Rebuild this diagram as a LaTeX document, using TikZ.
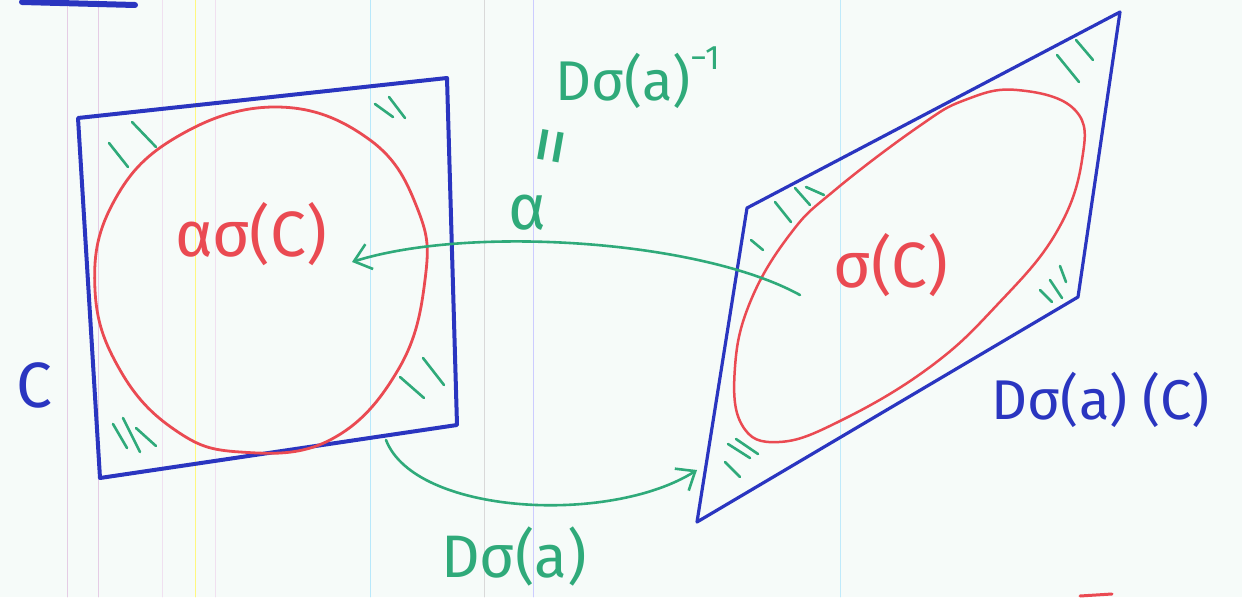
\documentclass[tikz,border=0pt]{standalone}
\usepackage{fontspec}
\setmainfont{Fira Sans}
\usetikzlibrary{arrows.meta}
\definecolor{pblue}{HTML}{2A35C0}
\definecolor{pred}{HTML}{EA4A52}
\definecolor{pgreen}{HTML}{2FAA7A}
\definecolor{paper}{HTML}{F6FBF9}
\begin{document}
\begin{tikzpicture}[x=1pt,y=-1pt,line cap=round,line join=round,
  bluepen/.style={draw=pblue,line width=4pt},
  redpen/.style={draw=pred,line width=2.8pt},
  greenpen/.style={draw=pgreen,line width=2.6pt},
  hatch/.style={draw=pgreen,line width=2.6pt},
  rule/.style={line width=0.7pt},
  redlabel/.style={text=pred,font=\fontsize{64}{64}\selectfont,inner sep=0pt},
  bluelabel/.style={text=pblue,font=\fontsize{62}{62}\selectfont,inner sep=0pt},
  greenlabel/.style={text=pgreen,font=\fontsize{56}{56}\selectfont,inner sep=0pt},
  tip/.style={-{Straight Barb[length=16pt,width=26pt,line width=2.6pt]}}]
\useasboundingbox (0,0) rectangle (1242,597);
\fill[paper] (0,0) rectangle (1242,597);
% faint ruling of the paper
\foreach \xx/\cc in {67/violet!20,98/violet!20,162/violet!12,195/yellow!50,215/violet!12,370/cyan!28,484/gray!30,533/blue!20,840/cyan!25}
  \draw[rule,\cc] (\xx,0) -- (\xx,597);
% stray marks at the edges
\draw[bluepen,line width=6pt] (22,2) -- (135,5);
\draw[pred,line width=3pt] (1080,596) -- (1112,594);

% left square C
\draw[bluepen] (78,118) -- (447,78) -- (457,425) -- (100,478) -- cycle;
% left circle
\draw[redpen] plot[smooth cycle,tension=0.7] coordinates {(277,107) (370,140) (418,210) (425,280) (398,370) (330,440) (240,452) (175,430) (120,370) (95,290) (112,205) (175,138)};
% right parallelogram
\draw[bluepen,line width=3.2pt] (747,208) -- (1120,12) -- (1078,297) -- (697,522) -- cycle;
% right ellipse
\draw[redpen,line width=2.5pt] plot[smooth cycle,tension=0.7] coordinates {(1017,90) (1075,110) (1082,160) (1056,233) (997,305) (930,367) (842,420) (779,442) (742,425) (735,367) (751,300) (791,233) (835,190) (918,127) (965,100)};

% hatch marks
\draw[hatch] (109,143) -- (128,167) (132,122) -- (156,147);
\draw[hatch] (375,104) -- (393,117) (389,97) -- (405,118);
\draw[hatch] (113,424) -- (127,448) (123,418) -- (140,452) (136,428) -- (156,446);
\draw[hatch] (400,377) -- (424,398) (423,358) -- (444,385);
\draw[hatch] (775,202) -- (791,222) (795,188) -- (810,205) (806,187) -- (824,195) (751,240) -- (763,250);
\draw[hatch] (1057,55) -- (1079,82) (1076,40) -- (1093,60);
\draw[hatch] (1040,290) -- (1052,302) (1050,280) -- (1062,298) (1060,266) -- (1066,282);
\draw[hatch] (725,462) -- (740,477) (728,444) -- (750,458) (736,439) -- (758,454);

% labels
\node[redlabel] (asC) at (251,234) {ασ(C)};
\node[redlabel] (sC) at (891,265) {σ(C)};
\node[bluelabel,font=\fontsize{64}{64}\selectfont] (Clab) at (34,385) {C};
\node[bluelabel,font=\fontsize{56}{56}\selectfont] (DsaC) at (1101,400) {Dσ(a) (C)};
\node[greenlabel,font=\fontsize{60}{60}\selectfont] (Dsa) at (514,556) {Dσ(a)};
\node[greenlabel,anchor=base west] (Dsainv) at (555,100) {Dσ(a)\raisebox{0.55em}{\fontsize{34}{34}\selectfont −1}};
\node[greenlabel,font=\fontsize{64}{64}\selectfont] (alab) at (527,213) {α};
\node[greenlabel,font=\fontsize{80}{80}\selectfont,rotate=80] (eqs) at (559,148) {=};

% connectors
\coordinate (aStart) at (800,295);
\coordinate (aEnd) at (352,262);
\coordinate (bStart) at (386,440);
\coordinate (bEnd) at (697,470);
\draw[greenpen,tip] (aStart) .. controls (700,240) and (470,225) .. (aEnd);
\draw[greenpen,tip] (bStart) .. controls (415,515) and (610,525) .. (bEnd);
\end{tikzpicture}
\end{document}
